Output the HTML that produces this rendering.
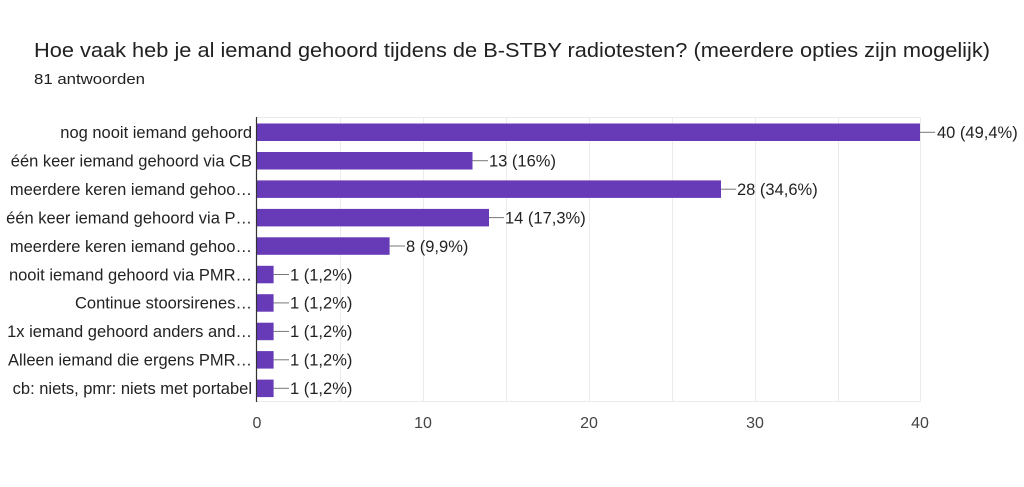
<!DOCTYPE html>
<html><head><meta charset="utf-8"><style>
html,body{margin:0;padding:0;background:#fff;}
svg{display:block;font-family:"Liberation Sans",Arial,sans-serif;}
</style></head><body>
<svg width="1024" height="487" viewBox="0 0 1024 487" xmlns="http://www.w3.org/2000/svg">
<rect width="1024" height="487" fill="#fff"/>
<text x="34" y="57" font-size="20" fill="#212121" textLength="956" lengthAdjust="spacingAndGlyphs">Hoe vaak heb je al iemand gehoord tijdens de B-STBY radiotesten? (meerdere opties zijn mogelijk)</text>
<text x="34" y="84" font-size="14.5" fill="#212121" textLength="111" lengthAdjust="spacingAndGlyphs">81 antwoorden</text>
<g stroke="#ebebeb" stroke-width="1">
<line x1="340.5" y1="117" x2="340.5" y2="402"/><line x1="423.5" y1="117" x2="423.5" y2="402"/>
<line x1="506.5" y1="117" x2="506.5" y2="402"/><line x1="589.5" y1="117" x2="589.5" y2="402"/>
<line x1="672.5" y1="117" x2="672.5" y2="402"/><line x1="755.5" y1="117" x2="755.5" y2="402"/>
<line x1="838.5" y1="117" x2="838.5" y2="402"/><line x1="920.5" y1="117" x2="920.5" y2="402"/>
<line x1="257" y1="117.5" x2="921" y2="117.5"/><line x1="257" y1="401.5" x2="921" y2="401.5"/>
</g>
<g fill="#673ab7">
<rect x="257" y="123.5" width="663" height="17.5"/>
<rect x="257" y="152" width="215.5" height="17.5"/>
<rect x="257" y="180.4" width="464" height="17.5"/>
<rect x="257" y="208.9" width="232" height="17.5"/>
<rect x="257" y="237.3" width="132.6" height="17.5"/>
<rect x="257" y="265.8" width="16.6" height="17.5"/>
<rect x="257" y="294.2" width="16.6" height="17.5"/>
<rect x="257" y="322.7" width="16.6" height="17.5"/>
<rect x="257" y="351.1" width="16.6" height="17.5"/>
<rect x="257" y="379.6" width="16.6" height="17.5"/>
</g>
<line x1="256.5" y1="117" x2="256.5" y2="402" stroke="#333" stroke-width="1.2"/>
<g stroke="#777" stroke-width="1">
<line x1="920" y1="132.3" x2="935" y2="132.3"/>
<line x1="472.5" y1="160.7" x2="488" y2="160.7"/>
<line x1="721" y1="189.2" x2="736" y2="189.2"/>
<line x1="489" y1="217.6" x2="504" y2="217.6"/>
<line x1="389.6" y1="246" x2="405" y2="246"/>
<line x1="273.6" y1="274.5" x2="289" y2="274.5"/>
<line x1="273.6" y1="302.9" x2="289" y2="302.9"/>
<line x1="273.6" y1="331.4" x2="289" y2="331.4"/>
<line x1="273.6" y1="359.8" x2="289" y2="359.8"/>
<line x1="273.6" y1="388.3" x2="289" y2="388.3"/>
</g>
<g font-size="16.5" fill="#222">
<text x="937" y="138">40 (49,4%)</text>
<text x="489" y="166.5">13 (16%)</text>
<text x="737" y="195">28 (34,6%)</text>
<text x="505" y="223.5">14 (17,3%)</text>
<text x="406" y="251.8">8 (9,9%)</text>
<text x="290" y="280.3">1 (1,2%)</text>
<text x="290" y="308.7">1 (1,2%)</text>
<text x="290" y="337.2">1 (1,2%)</text>
<text x="290" y="365.6">1 (1,2%)</text>
<text x="290" y="394.1">1 (1,2%)</text>
</g>
<g font-size="16.5" fill="#222" text-anchor="end">
<text x="252" y="138">nog nooit iemand gehoord</text>
<text x="252" y="166.5">één keer iemand gehoord via CB</text>
<text x="252" y="195">meerdere keren iemand gehoo…</text>
<text x="252" y="223.5">één keer iemand gehoord via P…</text>
<text x="252" y="251.8">meerdere keren iemand gehoo…</text>
<text x="252" y="280.3">nooit iemand gehoord via PMR…</text>
<text x="252" y="308.7">Continue stoorsirenes…</text>
<text x="252" y="337.2">1x iemand gehoord anders and…</text>
<text x="252" y="365.6">Alleen iemand die ergens PMR…</text>
<text x="252" y="394.1">cb: niets, pmr: niets met portabel</text>
</g>
<g font-size="16" fill="#444" text-anchor="middle">
<text x="257" y="428">0</text>
<text x="423" y="428">10</text>
<text x="589" y="428">20</text>
<text x="755" y="428">30</text>
<text x="920" y="428">40</text>
</g>
</svg>
</body></html>
